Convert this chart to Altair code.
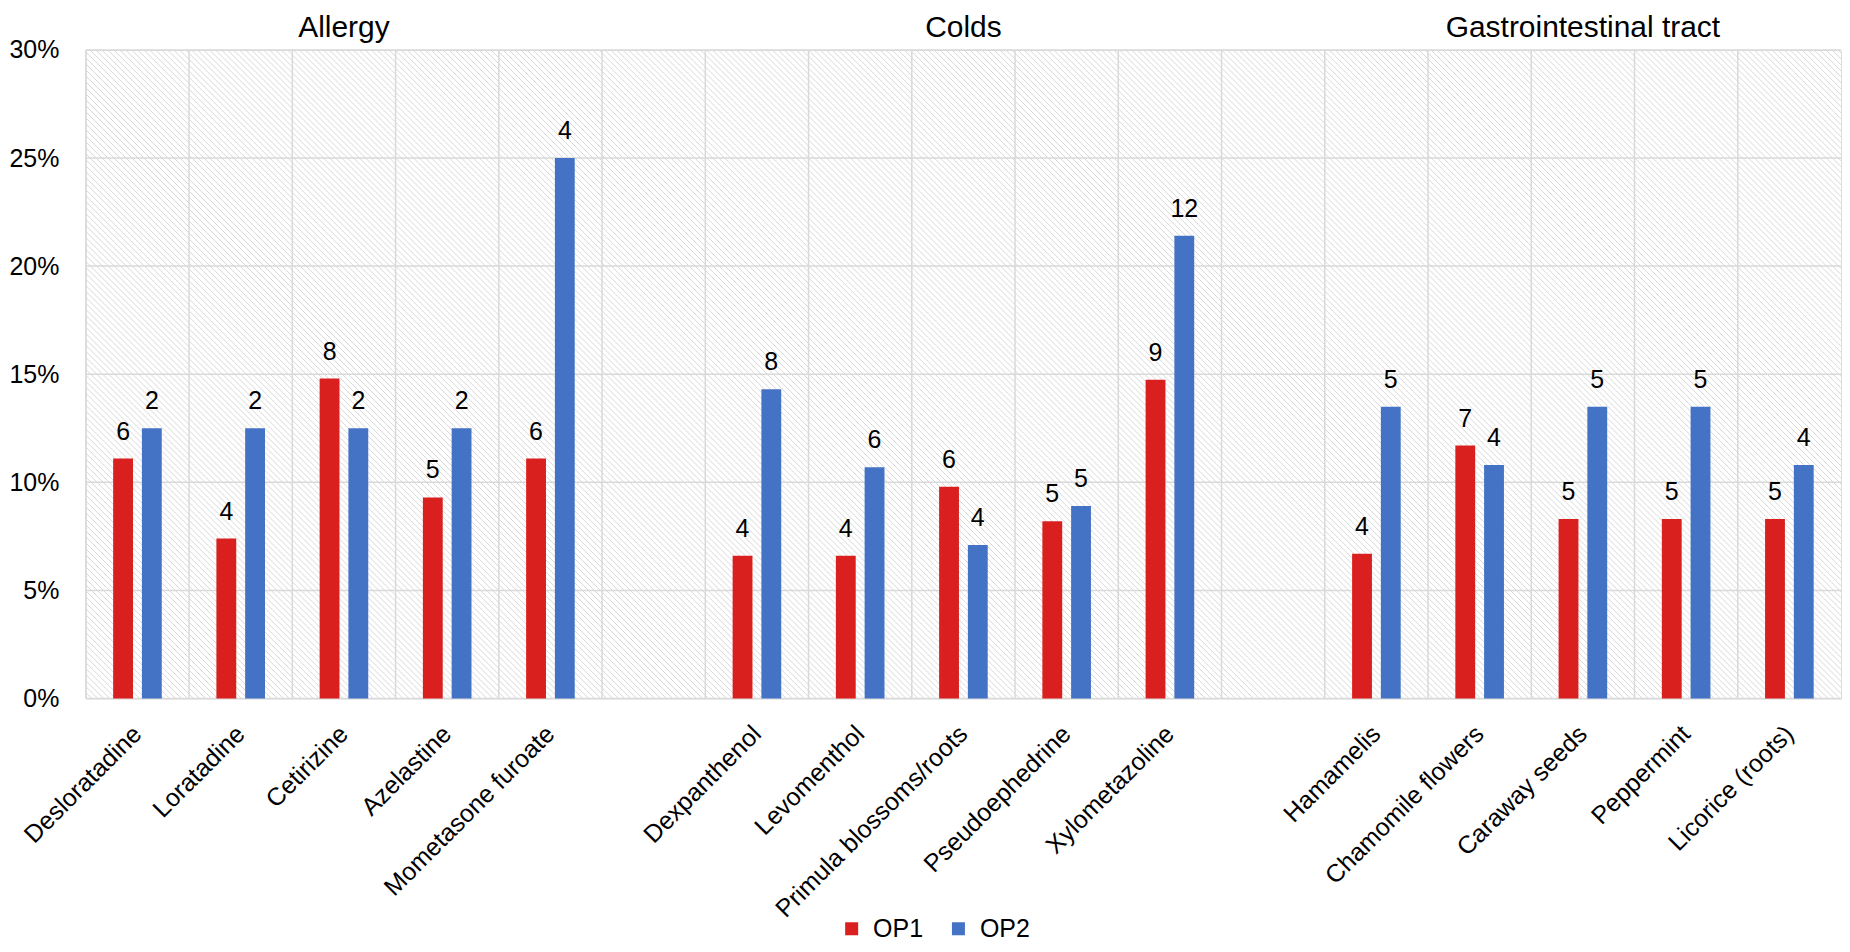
import altair as alt
import pandas as pd

categories = ["Desloratadine", "Loratadine", "Cetirizine", "Azelastine", "Mometasone furoate", " ",
              "Dexpanthenol", "Levomenthol", "Primula blossoms/roots", "Pseudoephedrine", "Xylometazoline", "  ",
              "Hamamelis", "Chamomile flowers", "Caraway seeds", "Peppermint", "Licorice (roots)"]
drugs = ["Desloratadine", "Loratadine", "Cetirizine", "Azelastine", "Mometasone furoate",
         "Dexpanthenol", "Levomenthol", "Primula blossoms/roots", "Pseudoephedrine", "Xylometazoline",
         "Hamamelis", "Chamomile flowers", "Caraway seeds", "Peppermint", "Licorice (roots)"]
op1_pct = [11.1, 7.4, 14.8, 9.3, 11.1, 6.6, 6.6, 9.8, 8.2, 14.75, 6.7, 11.7, 8.3, 8.3, 8.3]
op1_n = [6, 4, 8, 5, 6, 4, 4, 6, 5, 9, 4, 7, 5, 5, 5]
op2_pct = [12.5, 12.5, 12.5, 12.5, 25.0, 14.3, 10.7, 7.1, 8.9, 21.4, 13.5, 10.8, 13.5, 13.5, 10.8]
op2_n = [2, 2, 2, 2, 4, 8, 6, 4, 5, 12, 5, 4, 5, 5, 4]
groups = ["Allergy", "Colds", "Gastrointestinal tract"]
group_mid = ["Cetirizine", "Primula blossoms/roots", "Caraway seeds"]
y_ticks = [0, 5, 10, 15, 20, 25, 30]
series = ["OP1", "OP2"]
colors = ["#D9201E", "#4472C4"]

W, H = 1759, 650
FONT = "Liberation Sans"
GRID = "#d9d9d9"

rows = []
for i, d in enumerate(drugs):
    rows.append({"cat": d, "series": "OP1", "pct": op1_pct[i], "n": op1_n[i]})
    rows.append({"cat": d, "series": "OP2", "pct": op2_pct[i], "n": op2_n[i]})
df = pd.DataFrame(rows)

xscale = alt.Scale(domain=categories, paddingInner=0, paddingOuter=0)
yscale = alt.Scale(domain=[0, 30], nice=False)
offscale = alt.Scale(domain=series, paddingInner=0.31, paddingOuter=0.95)

xaxis = alt.Axis(labelAngle=-45, labelAlign="right", labelBaseline="middle", labelPadding=31,
                 ticks=False, tickSize=0, domain=False, grid=False, labelFontSize=25,
                 labelColor="#000000", labelFont=FONT, labelLimit=400, title=None)
yaxis = alt.Axis(values=y_ticks, labelExpr="datum.value + '%'", ticks=False, tickSize=0, domain=False,
                 grid=False, labelFontSize=25, labelColor="#000000", labelFont=FONT, labelPadding=27,
                 title=None)

step = 6
nlines = (W + H) // step + 3
hatch = alt.Chart(alt.sequence(0, nlines, as_="k")).transform_calculate(
    hx=f"datum.k*{step} - {H}", hx2=f"datum.k*{step}", hy="0", hy2=f"{H}"
).mark_rule(color="#d8d8d8", strokeWidth=1.0, clip=True).encode(
    x=alt.X("hx:Q", scale=None, axis=None),
    x2="hx2:Q",
    y=alt.Y("hy:Q", scale=None, axis=None),
    y2="hy2:Q",
)

vgrid = alt.Chart(pd.DataFrame({"cat": categories})).mark_rule(color=GRID, strokeWidth=1.5).encode(
    x=alt.X("cat:N", scale=xscale, axis=xaxis, bandPosition=0, sort=None),
)

hgrid = alt.Chart(pd.DataFrame({"v": y_ticks})).mark_rule(color=GRID, strokeWidth=1.5).encode(
    y=alt.Y("v:Q", scale=yscale, axis=yaxis),
)

bars = alt.Chart(df).mark_bar().encode(
    x=alt.X("cat:N", scale=xscale, axis=xaxis, sort=None),
    xOffset=alt.XOffset("series:N", scale=offscale),
    y=alt.Y("pct:Q", scale=yscale, axis=yaxis),
    color=alt.Color("series:N", scale=alt.Scale(domain=series, range=colors),
                    legend=alt.Legend(orient="none", legendX=755, legendY=868, direction="horizontal",
                                      symbolType="square", symbolSize=170, symbolStrokeWidth=0,
                                      labelFontSize=25, labelFont=FONT, labelColor="#000000",
                                      columnPadding=22, labelOffset=9, padding=0, title=None)),
)

labels = alt.Chart(df).mark_text(dy=-19, fontSize=25, baseline="alphabetic", font=FONT, color="#000000").encode(
    x=alt.X("cat:N", scale=xscale, axis=xaxis, sort=None),
    xOffset=alt.XOffset("series:N", scale=offscale),
    y=alt.Y("pct:Q", scale=yscale, axis=yaxis),
    text="n:Q",
)

titles = alt.Chart(pd.DataFrame({"group": groups, "cat": group_mid})).mark_text(
    fontSize=30, baseline="alphabetic", font=FONT, color="#000000"
).encode(
    x=alt.X("cat:N", scale=xscale, axis=xaxis, sort=None),
    y=alt.value(-13),
    text="group:N",
)

chart = alt.layer(hatch, vgrid, hgrid, bars, labels, titles).properties(
    width=W, height=H, padding={"top": 4, "left": 0, "right": 0, "bottom": 0}
).configure_view(stroke=GRID, strokeWidth=1.5).configure(background="white")

chart.save("out.html", embed_options={"renderer": "svg", "actions": False})
